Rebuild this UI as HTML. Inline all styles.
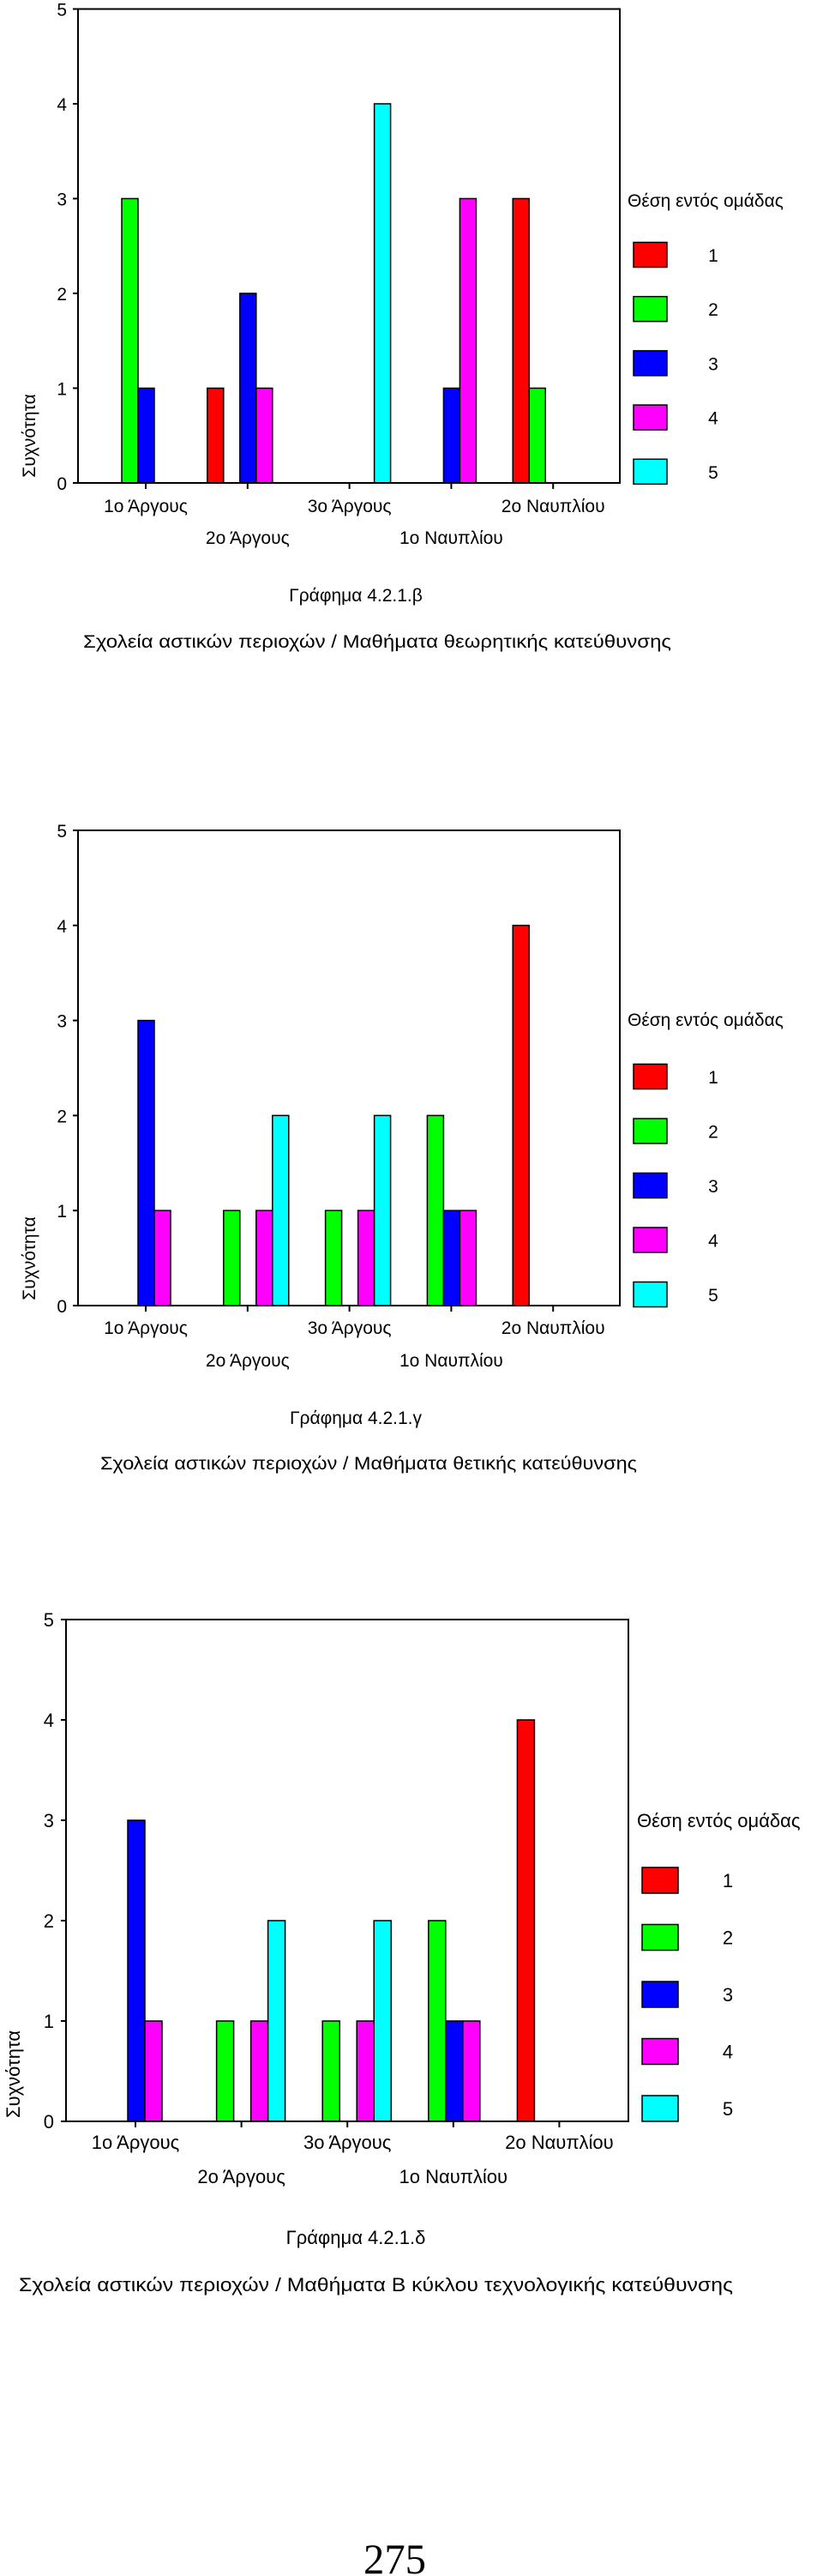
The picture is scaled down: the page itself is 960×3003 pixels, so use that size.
<!DOCTYPE html>
<html><head><meta charset="utf-8">
<style>
html,body{margin:0;padding:0;background:#fff;}
svg{display:block;font-family:"Liberation Sans",Arial,sans-serif;}
</style></head>
<body>
<svg id="page" width="960" height="3003" viewBox="0 0 960 3003" xmlns="http://www.w3.org/2000/svg">
<rect x="0" y="0" width="960" height="3003" fill="#fff"/>
<text x="424" y="3000" font-family="Liberation Serif, serif" font-size="50" textLength="73" lengthAdjust="spacingAndGlyphs" fill="#000">275</text>
</svg>
<script>
const categories = ["1ο Άργους","2ο Άργους","3ο Άργους","1ο Ναυπλίου","2ο Ναυπλίου"];
const seriesNames = ["1","2","3","4","5"];
const seriesColors = ["#ff0000","#00ff00","#0000ff","#ff00ff","#00ffff"];
const yTicks = [0,1,2,3,4,5];
// Chart β
const betaS1 = [0,1,0,0,3];
const betaS2 = [3,0,0,0,1];
const betaS3 = [1,2,0,1,0];
const betaS4 = [0,1,0,3,0];
const betaS5 = [0,0,4,0,0];
// Chart γ
const gammaS1 = [0,0,0,0,4];
const gammaS2 = [0,1,1,2,0];
const gammaS3 = [3,0,0,1,0];
const gammaS4 = [1,1,1,1,0];
const gammaS5 = [0,2,2,0,0];
// Chart δ
const deltaS1 = [0,0,0,0,4];
const deltaS2 = [0,1,1,2,0];
const deltaS3 = [3,0,0,1,0];
const deltaS4 = [1,1,1,1,0];
const deltaS5 = [0,2,2,0,0];
const captions = ["Γράφημα 4.2.1.β","Γράφημα 4.2.1.γ","Γράφημα 4.2.1.δ"];
const subtitles = ["Σχολεία αστικών περιοχών / Μαθήματα θεωρητικής κατεύθυνσης",
 "Σχολεία αστικών περιοχών / Μαθήματα θετικής κατεύθυνσης",
 "Σχολεία αστικών περιοχών / Μαθήματα Β κύκλου τεχνολογικής κατεύθυνσης"];
const legendTitle = "Θέση εντός ομάδας";
const axisTitle = "Συχνότητα";

const NS = "http://www.w3.org/2000/svg";
const svg = document.getElementById('page');
function mk(tag, attrs, parent){
  const e = document.createElementNS(NS, tag);
  for (const k in attrs) e.setAttribute(k, attrs[k]);
  (parent||svg).appendChild(e);
  return e;
}

const layouts = [
 {key:"beta", series:[betaS1,betaS2,betaS3,betaS4,betaS5], left:91, right:723, y0:563, unit:110.5, c0:170, cstep:118.8, bw:19, boff:-47,
  fs:21, tickX:78, axX:33, lbl1:597, lbl2:634, legX:739, legW:39, legH:29, legY0:297, legStep:63.2, legTitleY:241, legTitleX:732, legLblX:832,
  capY:701, subY:755, subX:97, subW:686, capX:415},
 {key:"gamma", series:[gammaS1,gammaS2,gammaS3,gammaS4,gammaS5], left:91, right:723, y0:1522, unit:110.8, c0:170, cstep:118.8, bw:19, boff:-47,
  fs:21, tickX:78, axX:33, lbl1:1555, lbl2:1593, legX:739, legW:39, legH:29, legY0:1255, legStep:63.5, legTitleY:1196, legTitleX:732, legLblX:832,
  capY:1660, subY:1713, subX:117, subW:626, capX:415},
 {key:"delta", series:[deltaS1,deltaS2,deltaS3,deltaS4,deltaS5], left:77, right:733, y0:2473, unit:117, c0:158, cstep:123.6, bw:20, boff:-49,
  fs:22, tickX:63, axX:15, lbl1:2505, lbl2:2545, legX:749, legW:42, legH:30, legY0:2192, legStep:66.5, legTitleY:2130, legTitleX:743, legLblX:849,
  capY:2616, subY:2671, subX:22, subW:833, capX:415}
];

layouts.forEach((L, ci) => {
  const g = mk('g', {});
  
  
  const yS = v => L.y0 - v * L.unit;
  const xC = i => L.c0 + i * L.cstep;
  const top = yS(5);
  // bars
  L.series.forEach((vals, si) => {
    vals.forEach((v, i) => {
      if (v <= 0) return;
      const r = mk('rect', {x: xC(i) + L.boff + si * L.bw, y: yS(v), width: L.bw, height: L.y0 - yS(v),
        fill: seriesColors[si], stroke: '#000', 'stroke-width': 1.5}, g);
      
      
    });
  });
  // frame
  const fr = mk('rect', {x: L.left, y: top, width: L.right - L.left, height: L.y0 - top, fill: 'none', stroke: '#000', 'stroke-width': 2}, g);
  
  
  // y ticks
  yTicks.forEach(t => {
    mk('line', {x1: L.left - 6, x2: L.left, y1: yS(t), y2: yS(t), stroke: '#000', 'stroke-width': 2}, g);
    const tl = mk('text', {x: L.tickX, y: yS(t) + 8, 'text-anchor': 'end', 'font-size': L.fs, fill: '#000'}, g);
    
    
    tl.textContent = String(t);
  });
  // x ticks and labels
  categories.forEach((c, i) => {
    mk('line', {x1: xC(i), x2: xC(i), y1: L.y0, y2: L.y0 + 7, stroke: '#000', 'stroke-width': 2}, g);
    const xl = mk('text', {x: xC(i), y: (i % 2 === 0) ? L.lbl1 : L.lbl2, 'text-anchor': 'middle', 'font-size': L.fs, fill: '#000'}, g);
    
    
    xl.textContent = c;
  });
  // axis title
  const at = mk('text', {x: 0, y: 0, 'text-anchor': 'middle', 'font-size': L.fs,
    transform: 'translate(' + (L.axX + 8) + ',' + (L.y0 - 55) + ') rotate(-90)', fill: '#000'}, g);
  
  
  at.textContent = axisTitle;
  // legend
  const lt = mk('text', {x: L.legTitleX, y: L.legTitleY, 'font-size': L.fs, fill: '#000'}, g);
  
  
  lt.textContent = legendTitle;
  seriesNames.forEach((n, si) => {
    const cy = L.legY0 + si * L.legStep;
    const sw = mk('rect', {x: L.legX, y: cy - L.legH/2, width: L.legW, height: L.legH, fill: seriesColors[si], stroke: '#000', 'stroke-width': 1.5}, g);
    
    
    const ll = mk('text', {x: L.legLblX, y: cy + 8, 'text-anchor': 'middle', 'font-size': L.fs, fill: '#000'}, g);
    
    
    ll.textContent = n;
  });
  // caption + subtitle
  const cp = mk('text', {x: L.capX, y: L.capY, 'text-anchor': 'middle', 'font-size': L.fs, fill: '#000'}, g);
  
  
  cp.textContent = captions[ci];
  const st = mk('text', {x: L.subX, y: L.subY, 'font-size': L.fs, textLength: L.subW, lengthAdjust: 'spacingAndGlyphs', fill: '#000'}, g);
  
  
  st.textContent = subtitles[ci];
});
</script>
</body></html>
